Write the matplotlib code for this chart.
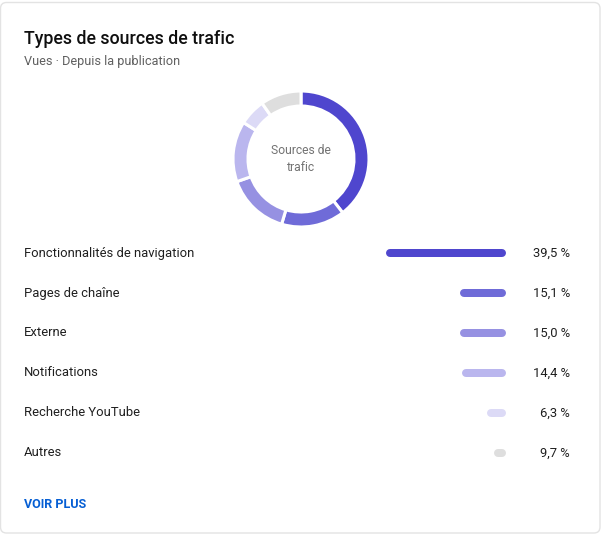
import matplotlib
matplotlib.use("Agg")
import matplotlib.pyplot as plt
from matplotlib.patches import FancyBboxPatch
from matplotlib.transforms import blended_transform_factory

# ---- data ----
categories = ["Fonctionnalités de navigation", "Pages de chaîne", "Externe",
              "Notifications", "Recherche YouTube", "Autres"]
values = [39.5, 15.1, 15.0, 14.4, 6.3, 9.7]
value_labels = ["39,5 %", "15,1 %", "15,0 %", "14,4 %", "6,3 %", "9,7 %"]
bar_lengths = [39.5, 15.1, 15.0, 14.4, 6.3, 4.0]
colors = ["#4F46CE", "#6F6BD8", "#9691E2", "#BAB6EE", "#DCDAF6", "#DEDEDE"]
title = "Types de sources de trafic"
subtitle = "Vues · Depuis la publication"
center_text = "Sources de\ntrafic"
link_text = "VOIR PLUS"

plt.rcParams['font.family'] = ['Roboto', 'DejaVu Sans']

W, H = 601, 535
fig = plt.figure(figsize=(W / 100, H / 100), dpi=100)
fig.patch.set_facecolor("white")

ax = fig.add_axes([0, 0, 1, 1])
ax.set_xlim(0, W)
ax.set_ylim(H, 0)
ax.axis("off")

# card
card = FancyBboxPatch((0.5, 2.5), 599.5, 530.5,
                      boxstyle="round,pad=0,rounding_size=6",
                      facecolor="white", edgecolor="#E3E3E3", linewidth=1.0)
ax.add_patch(card)

ax.text(24, 38.5, title, fontsize=12.8, fontweight="medium", color="#0F0F0F",
        va="center", ha="left")
ax.text(24, 61, subtitle, fontsize=9.2, color="#606060", va="center", ha="left")
ax.text(24, 504, link_text, fontsize=9.0, fontweight="bold", color="#065FD4",
        va="center", ha="left")

# donut
cx, cy, R = 301, 159, 68
axd = fig.add_axes([(cx - R) / W, (H - cy - R) / H, 2 * R / W, 2 * R / H])
axd.pie(values, colors=colors, startangle=90, counterclock=False, radius=1,
        wedgeprops=dict(width=15 / R, edgecolor="white", linewidth=2.2))
axd.set_xlim(-1, 1)
axd.set_ylim(-1, 1)
axd.set_aspect("equal")
axd.axis("off")
axd.text(0, 0, center_text, ha="center", va="center", fontsize=8.7,
         color="#737373", linespacing=1.45)

# bars
top, row_h = 233, 40
n = len(categories)
bx0, bx1 = 386, 506
axb = fig.add_axes([bx0 / W, (H - (top + row_h * n)) / H, (bx1 - bx0) / W, row_h * n / H])
vmax = max(bar_lengths)
axb.set_xlim(vmax, 0)
axb.set_ylim(n - 0.5, -0.5)
axb.axis("off")
r = 4 * vmax / (bx1 - bx0)  # cap radius in data units
for i, (v, c) in enumerate(zip(bar_lengths, colors)):
    axb.hlines(i, r, v - r, colors=c, linewidth=8 * 0.72, capstyle="round")

tr = blended_transform_factory(ax.transData, axb.transData)
for i, (cat, lab) in enumerate(zip(categories, value_labels)):
    ax.text(24, i, cat, transform=tr, fontsize=9.4, color="#1F1F1F",
            va="center", ha="left")
    ax.text(570, i, lab, transform=tr, fontsize=9.4, color="#1F1F1F",
            va="center", ha="right")

fig.savefig("out.png", dpi=100, facecolor="white")
